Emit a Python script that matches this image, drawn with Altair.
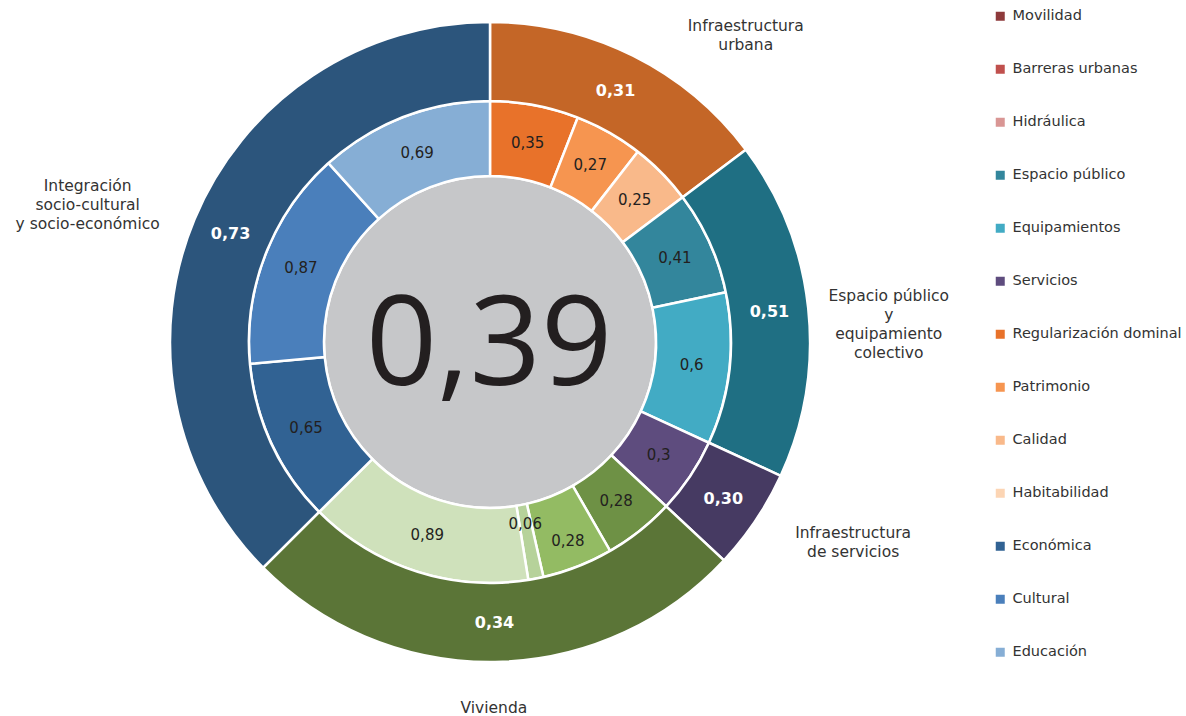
import altair as alt
import pandas as pd

FONT = "DejaVu Sans"
BIG_FONT = "Open Sans"
CX, CY = 490, 342

# ---------------- data ----------------
center_value = 0.39

cats = [
    "Infraestructura urbana",
    "Espacio público y equipamiento colectivo",
    "Infraestructura de servicios",
    "Vivienda",
    "Integración socio-cultural y socio-económico",
]
cat_lines = [
    ["Infraestructura", "urbana"],
    ["Espacio público", "y", "equipamiento", "colectivo"],
    ["Infraestructura", "de servicios"],
    ["Vivienda"],
    ["Integración", "socio-cultural", "y socio-económico"],
]
cat_scores = [0.31, 0.51, 0.30, 0.34, 0.73]
cat_colors = ["#c46627", "#1f6f83", "#463a62", "#5b7537", "#2c557c"]

sub_names = [
    "Regularización dominal", "Patrimonio", "Calidad",
    "Espacio público", "Equipamientos",
    "Servicios",
    "Vivienda a", "Vivienda b", "Vivienda c", "Vivienda d",
    "Económica", "Cultural", "Educación",
]
sub_cat = [0, 0, 0, 1, 1, 2, 3, 3, 3, 3, 4, 4, 4]
sub_values = [0.35, 0.27, 0.25, 0.41, 0.6, 0.3, 0.28, 0.28, 0.06, 0.89, 0.65, 0.87, 0.69]

legend_names = [
    "Movilidad", "Barreras urbanas", "Hidráulica", "Espacio público",
    "Equipamientos", "Servicios", "Regularización dominal", "Patrimonio",
    "Calidad", "Habitabilidad", "Económica", "Cultural", "Educación",
]
legend_colors = [
    "#8e3a3b", "#c0504d", "#d99694", "#33869c",
    "#42abc4", "#5e4c7e", "#e8722a", "#f69550",
    "#f9b98a", "#fcd5b4", "#316293", "#4a7fbb", "#86aed5",
]
extra_names = ["Vivienda a", "Vivienda b", "Vivienda c", "Vivienda d"]
extra_colors = ["#6e9145", "#93bb63", "#b6d29a", "#cfe1bb"]

# ---------------- tables ----------------
inner_df = pd.DataFrame({
    "name": sub_names,
    "cat": [cats[i] for i in sub_cat],
    "cidx": sub_cat,
    "idx": list(range(len(sub_names))),
    "value": sub_values,
    "vlabel": [str(v).replace(".", ",") for v in sub_values],
})
cat_df = pd.DataFrame({
    "cat": cats,
    "score": cat_scores,
    "slabel": [f"{v:.2f}".replace(".", ",") for v in cat_scores],
    "ccolor": cat_colors,
})
label_map = {c: l for c, l in zip(cats, cat_lines)}

color_scale = alt.Scale(domain=legend_names + extra_names,
                        range=legend_colors + extra_colors)

# ---------------- layers ----------------
gray = alt.Chart(pd.DataFrame({"a": [0]})).mark_arc(
    radius=166, theta=0, theta2=6.2832, color="#c6c7c9",
    stroke="white", strokeWidth=2.5,
).encode(x=alt.value(CX), y=alt.value(CY))

inner = alt.Chart(inner_df).mark_arc(
    innerRadius=166, outerRadius=241, stroke="white", strokeWidth=2.5
).encode(
    x=alt.value(CX), y=alt.value(CY),
    theta=alt.Theta("value:Q", stack=True),
    order=alt.Order("idx:Q"),
    color=alt.Color(
        "name:N", scale=color_scale,
        legend=alt.Legend(
            title=None, orient="none", legendX=993, legendY=9,
            values=legend_names, symbolType="square", symbolSize=81,
            symbolStrokeWidth=0, labelFont=FONT, labelFontSize=14.5,
            labelColor="#333333", rowPadding=38, labelOffset=5,
            labelLimit=400,
        ),
    ),
)

# inner value labels; the two crowded Vivienda labels are pulled in / pushed out
special = {"Vivienda c": 185, "Vivienda b": 214}
text_layers = []
specs = [(203, "indexof(['Vivienda b','Vivienda c'], datum.name) < 0")] + [
    (r, f"datum.name === {n!r}") for n, r in special.items()
]
for r, cond in specs:
    text_layers.append(
        alt.Chart(inner_df).transform_calculate(
            tl=f"{cond} ? datum.vlabel : ''"
        ).mark_text(
            radius=r, font=FONT, fontSize=15, color="#231f20"
        ).encode(
            x=alt.value(CX), y=alt.value(CY),
            theta=alt.Theta("value:Q", stack=True),
            order=alt.Order("idx:Q"),
            text="tl:N",
        )
    )

outer_base = alt.Chart(inner_df).transform_aggregate(
    total="sum(value)", groupby=["cat", "cidx"]
).transform_lookup(
    lookup="cat", from_=alt.LookupData(cat_df, "cat", ["score", "slabel", "ccolor"])
)

outer = outer_base.mark_arc(
    innerRadius=241, outerRadius=320, stroke="white", strokeWidth=2.5
).encode(
    x=alt.value(CX), y=alt.value(CY),
    theta=alt.Theta("total:Q", stack=True),
    order=alt.Order("cidx:Q"),
    color=alt.Color("ccolor:N", scale=None, legend=None),
)

outer_text = outer_base.mark_text(
    radius=281, font=FONT, fontSize=16, fontWeight="bold", color="white"
).encode(
    x=alt.value(CX), y=alt.value(CY),
    theta=alt.Theta("total:Q", stack=True),
    order=alt.Order("cidx:Q"),
    text="slabel:N",
)

# category names outside the ring (radius, dx, dy nudges)
nudges = {
    cats[0]: (400, 77, 41.5),
    cats[1]: (400, 1, -3.5),
    cats[2]: (400, 31, -31.5),
    cats[3]: (368, -2, -2),
    cats[4]: (400, -33, -2),
}
name_layers = []
for c in cats:
    r, dx, dy = nudges[c]
    lbl = label_map[c]
    name_layers.append(
        outer_base.transform_calculate(
            nm=f"datum.cat === {c!r} ? {lbl!r} : ''"
        ).mark_text(
            radius=r, dx=dx, dy=dy, font=FONT, fontSize=15.5, color="#333333",
            lineHeight=19, align="center", baseline="middle",
        ).encode(
            x=alt.value(CX), y=alt.value(CY),
            theta=alt.Theta("total:Q", stack=True),
            order=alt.Order("cidx:Q"),
            text="nm:N",
        )
    )

center = alt.Chart(pd.DataFrame({"v": [center_value]})).transform_calculate(
    t="replace(format(datum.v, '.2f'), '.', ',')"
).mark_text(
    font=BIG_FONT, fontSize=125, color="#231f20", baseline="alphabetic", align="center"
).encode(x=alt.value(CX - 1), y=alt.value(385), text="t:N")

chart = alt.layer(
    gray, inner, outer, *text_layers, outer_text, *name_layers, center
).resolve_scale(color="independent", theta="independent").properties(
    width=1186, height=716, autosize="none", padding=0
).configure_view(stroke=None)

chart.save("out.html", embed_options={"renderer": "svg", "actions": False})
